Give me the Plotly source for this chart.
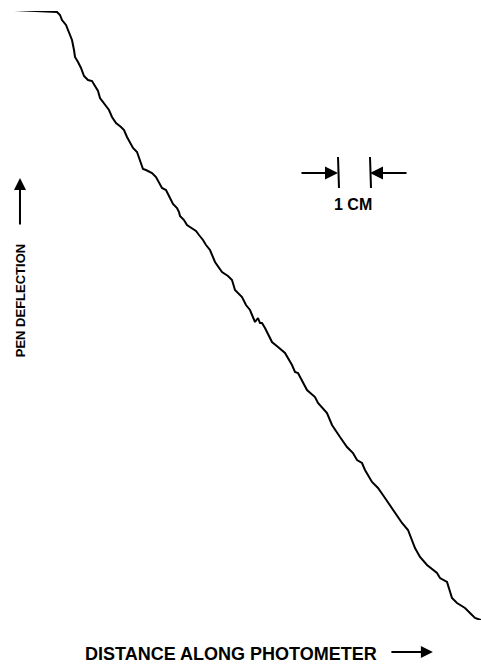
import plotly.graph_objects as go

# Photometer trace (distance along photometer, pen deflection; arbitrary units)
distance = [0, 16, 31, 43, 46, 48, 52, 55, 58, 60, 61, 64, 67, 70, 74, 78, 81, 84, 86, 89,
            92, 95, 98, 102, 107, 110, 113, 116, 119, 123, 126, 129, 132, 138, 142, 145, 148, 152, 154, 156,
            159, 163, 165, 166, 170, 173, 179, 182, 185, 189, 192, 196, 201, 208, 214, 218, 221, 228, 232, 236,
            241, 244, 246, 248, 251, 256, 258, 264, 271, 278, 281, 284, 289, 293, 301, 304, 313, 318, 326, 333,
            339, 343, 348, 351, 358, 364, 371, 379, 388, 394, 401, 406, 413, 423, 426, 433, 438, 443, 451, 456,
            461, 467]
deflection = [610, 609, 608.5, 608, 605, 600, 595, 588, 580, 570, 563, 558, 552, 544, 540, 539, 534, 529, 522, 518,
              515, 510, 503, 497, 493, 490, 483, 477, 472, 468, 460, 451, 450, 447, 443, 437, 432, 430, 425, 422,
              416, 412, 408, 404, 400, 395, 391, 389, 385, 380, 375, 370, 358, 348, 344, 340, 330, 323, 315, 310,
              298, 302, 297, 297, 292, 282, 278, 273, 267, 255, 248, 247, 237, 230, 223, 217, 207, 195, 183, 173,
              167, 160, 157, 150, 138, 132, 122, 110, 97, 90, 72, 63, 55, 47, 42, 38, 22, 17, 12, 7,
              2, 0]

# Scale marker (1 cm) in the same units
scale_left = 324
scale_right = 356
scale_y = 447
scale_tick_low = 432
scale_tick_high = 463
scale_label = "1 CM"

x_label = "DISTANCE ALONG PHOTOMETER"
y_label = "PEN DEFLECTION"

FONT = "Liberation Sans, Arial, sans-serif"

fig = go.Figure()
fig.add_trace(go.Scatter(x=distance, y=deflection, mode="lines",
                         line=dict(color="black", width=2), hoverinfo="skip", showlegend=False))

# scale tick bars
for xv in (scale_left, scale_right):
    fig.add_shape(type="line", xref="x", yref="y", x0=xv, x1=xv + 1,
                  y0=scale_tick_high, y1=scale_tick_low, line=dict(color="black", width=2))

annotations = [
    # arrows pointing at the scale ticks
    dict(x=scale_left, y=scale_y, ax=scale_left - 38, ay=scale_y, xref="x", yref="y",
         axref="x", ayref="y", text="", showarrow=True, arrowhead=2, arrowsize=1.3,
         arrowwidth=2, arrowcolor="black"),
    dict(x=scale_right, y=scale_y, ax=scale_right + 38, ay=scale_y, xref="x", yref="y",
         axref="x", ayref="y", text="", showarrow=True, arrowhead=2, arrowsize=1.3,
         arrowwidth=2, arrowcolor="black"),
    dict(x=(scale_left + scale_right) / 2 - 1, y=416, xref="x", yref="y", text=scale_label,
         showarrow=False, font=dict(family=FONT, size=16, color="black", weight="bold")),
    # x label
    dict(x=0.4647, y=-0.0558, xref="paper", yref="paper", text=x_label, showarrow=False,
         xanchor="center", yanchor="middle",
         font=dict(family=FONT, size=18, color="black", weight="bold")),
    dict(x=0.897, y=-0.0525, xref="paper", yref="paper", text="", showarrow=True,
         ax=-43, ay=0, arrowhead=2, arrowsize=1.2, arrowwidth=2, arrowcolor="black"),
    # y label
    dict(x=0.0128, y=0.525, xref="paper", yref="paper", text=y_label, showarrow=False,
         textangle=-90, xanchor="center", yanchor="middle",
         font=dict(family=FONT, size=13, color="black", weight="bold")),
    dict(x=0.0128, y=0.7258, xref="paper", yref="paper", text="", showarrow=True,
         ax=0, ay=48, arrowhead=2, arrowsize=1.2, arrowwidth=2, arrowcolor="black"),
]

fig.update_layout(
    width=481, height=666,
    margin=dict(l=14, r=0, t=11, b=46),
    paper_bgcolor="white", plot_bgcolor="white",
    xaxis=dict(range=[0, 467], visible=False, fixedrange=True),
    yaxis=dict(range=[0, 609], visible=False, fixedrange=True),
    annotations=annotations,
    showlegend=False,
)

fig.write_html("out.html", config={"displayModeBar": False})

# remove the default page margin so the figure sits at the window's top-left corner
with open("out.html", "r", encoding="utf-8") as f:
    html = f.read()
html = html.replace("<head>", "<head><style>html,body{margin:0;padding:0;overflow:hidden;}</style>", 1)
with open("out.html", "w", encoding="utf-8") as f:
    f.write(html)
